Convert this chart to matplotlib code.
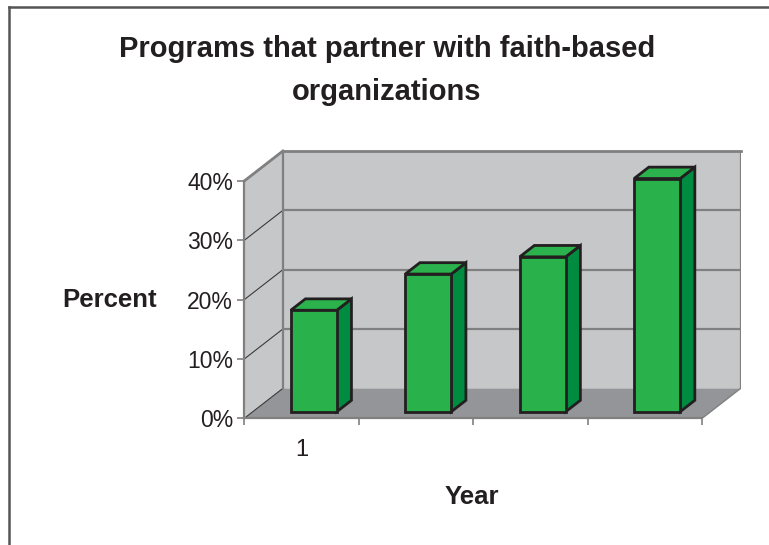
import matplotlib
matplotlib.use("Agg")
import matplotlib.pyplot as plt
from matplotlib.patches import Polygon, Rectangle
from matplotlib.lines import Line2D

plt.rcParams['font.family'] = ['Liberation Sans', 'DejaVu Sans']

# chart data
years = ['1', '', '', '']
percent = [17.1, 23.2, 26.1, 39.3]
y_ticks = [0, 10, 20, 30, 40]
y_tick_labels = ['0%', '10%', '20%', '30%', '40%']

# pseudo-3d geometry (depth shift in category / percent units)
depth_dx = 0.337
depth_dy = 5.05
bar_left = 0.332
bar_width = 0.402
bar_z0 = 0.22
bar_dz = 0.38
y_top = 40

wall_color = '#c6c7c9'
floor_color = '#939598'
grid_color = '#808080'
bar_front = '#29b14b'
bar_side = '#008c40'
bar_top = '#2bb24d'
edge_color = '#231f20'

fig = plt.figure(figsize=(7.69, 5.45), dpi=100)
ax = fig.add_axes([244.3 / 769, 126.7 / 545, 496.4 / 769, 267.3 / 545])
n = len(percent)
ax.set_xlim(0, n + depth_dx)
ax.set_ylim(0, y_top + depth_dy)

# walls and floor
ax.add_patch(Rectangle((depth_dx, depth_dy), n, y_top, facecolor=wall_color,
                       edgecolor='none', zorder=1))
ax.add_patch(Polygon([(0, 0), (0, y_top), (depth_dx, y_top + depth_dy), (depth_dx, depth_dy)],
                     closed=True, facecolor=wall_color, edgecolor='none', zorder=1))
ax.add_patch(Polygon([(0, 0), (n, 0), (n + depth_dx, depth_dy), (depth_dx, depth_dy)],
                     closed=True, facecolor=floor_color, edgecolor='none', zorder=1))

# gridlines on the back wall and diagonals on the side wall
for v in y_ticks[1:]:
    ax.plot([depth_dx, n + depth_dx], [v + depth_dy, v + depth_dy], color=grid_color,
            lw=1.6, zorder=2, solid_capstyle='butt')
    ax.plot([0, depth_dx], [v, v + depth_dy], color='#3a3a3a', lw=0.8, zorder=2)
ax.plot([0, depth_dx], [0, depth_dy], color='#3a3a3a', lw=0.8, zorder=2)
ax.plot([depth_dx, depth_dx], [depth_dy, y_top + depth_dy], color=grid_color, lw=1.6, zorder=2)
ax.plot([n + depth_dx, n + depth_dx], [depth_dy, y_top + depth_dy], color=grid_color,
        lw=1.6, zorder=2)
ax.plot([n, n + depth_dx], [0, depth_dy], color=grid_color, lw=1.0, zorder=2)

# bars: side, top, front
for i, v in enumerate(percent):
    x0 = i + bar_left + bar_z0 * depth_dx
    y0 = bar_z0 * depth_dy
    ddx = bar_dz * depth_dx
    ddy = bar_dz * depth_dy
    side = [(x0 + bar_width, y0), (x0 + bar_width, y0 + v),
            (x0 + bar_width + ddx, y0 + v + ddy), (x0 + bar_width + ddx, y0 + ddy)]
    top = [(x0, y0 + v), (x0 + bar_width, y0 + v),
           (x0 + bar_width + ddx, y0 + v + ddy), (x0 + ddx, y0 + v + ddy)]
    ax.add_patch(Polygon(side, closed=True, facecolor=bar_side, edgecolor=edge_color,
                         lw=2.0, joinstyle='miter', zorder=3))
    ax.add_patch(Polygon(top, closed=True, facecolor=bar_top, edgecolor=edge_color,
                         lw=2.0, joinstyle='miter', zorder=3))
    ax.add_patch(Rectangle((x0, y0), bar_width, v, facecolor=bar_front,
                           edgecolor=edge_color, lw=2.0, joinstyle='miter', zorder=4))

# front axes
for s in ['top', 'right']:
    ax.spines[s].set_visible(False)
for s in ['left', 'bottom']:
    ax.spines[s].set_color(grid_color)
    ax.spines[s].set_linewidth(1.6)
    ax.spines[s].set_zorder(5)
ax.spines['left'].set_bounds(0, y_top)
ax.spines['bottom'].set_bounds(0, n)
ax.plot([0, depth_dx], [y_top, y_top + depth_dy], color=grid_color, lw=2.0, zorder=5,
        clip_on=False)
ax.plot([depth_dx, n + depth_dx], [y_top + depth_dy, y_top + depth_dy], color=grid_color,
        lw=2.0, zorder=5, clip_on=False)

ax.set_yticks(y_ticks, y_tick_labels)
ax.tick_params(axis='y', length=5, width=1.2, color=grid_color, pad=3, labelsize=16.5,
               labelcolor='#231f20')
ax.set_xticks(range(n + 1), [''] * (n + 1))
ax.tick_params(axis='x', which='major', length=5, width=1.2, color=grid_color)
ax.set_xticks([i + 0.5 for i in range(n)], years, minor=True)
ax.tick_params(axis='x', which='minor', length=0, pad=15, labelsize=17,
               labelcolor='#231f20')

# titles
fig.text(387 / 769, 1 - 70.5 / 545, 'Programs that partner with faith-based\norganizations',
         ha='center', va='center', fontsize=21, fontweight='bold', color='#231f20',
         linespacing=1.7)
fig.text(110 / 769, 1 - 300 / 545, 'Percent', ha='center', va='center', fontsize=18.5,
         fontweight='bold', color='#231f20')
fig.text(472 / 769, 1 - 497 / 545, 'Year', ha='center', va='center', fontsize=18.5,
         fontweight='bold', color='#231f20')

# outer frame (left and top only)
fig.add_artist(Line2D([9 / 769, 9 / 769], [0, 1 - 7 / 545], color='#555555', lw=1.8))
fig.add_artist(Line2D([9 / 769, 1], [1 - 7 / 545, 1 - 7 / 545], color='#555555', lw=1.8))

fig.savefig('out.png', dpi=100)
